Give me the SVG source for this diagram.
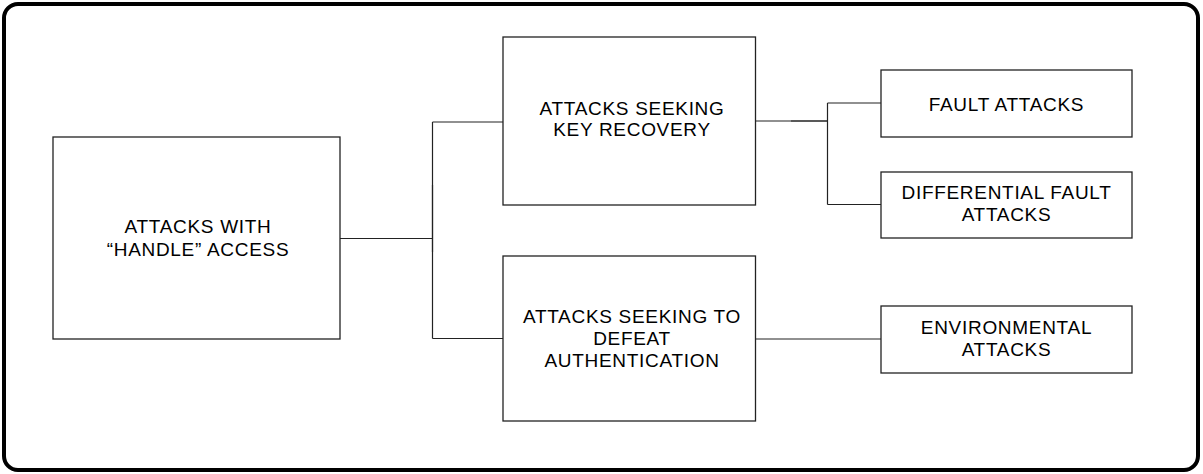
<svg xmlns="http://www.w3.org/2000/svg" width="1203" height="474" viewBox="0 0 1203 474">
<style>
.box{fill:#fff;stroke:#222;stroke-width:1.3}
.lbl{font-family:"Liberation Sans",Arial,sans-serif;font-size:19px;fill:#000;text-anchor:middle;letter-spacing:0.7px}
.con{fill:none;stroke:#222;stroke-width:1.2}
</style>
<rect x="0" y="0" width="1203" height="474" fill="#fff"/>
<rect x="4" y="4" width="1194" height="466" rx="14" ry="14" fill="#fff" stroke="#000" stroke-width="4"/>
<g id="connectors">
<path class="con" d="M340 238.5H432.5M432.5 122V338.5M432.5 122H503M432.5 338.5H503"/>
<path class="con" stroke-width="2" d="M398 238.5H432.5M432.5 185V252"/>
<path class="con" d="M755.5 121H827.5M827.5 103V204.5M827.5 103H881M827.5 204.5H881"/>
<path class="con" stroke-width="2" d="M791 121H827.5"/>
<path class="con" d="M755.5 339H881"/>
</g>
<g id="n_handle">
<rect class="box" x="53" y="137" width="287" height="202"/>
<text class="lbl" x="198" y="233">ATTACKS WITH</text>
<text class="lbl" x="198" y="256">“HANDLE” ACCESS</text>
</g>
<g id="n_key">
<rect class="box" x="503" y="37" width="252.5" height="168"/>
<text class="lbl" x="632" y="115">ATTACKS SEEKING</text>
<text class="lbl" x="632" y="136">KEY RECOVERY</text>
</g>
<g id="n_auth">
<rect class="box" x="503" y="256" width="252.5" height="165"/>
<text class="lbl" x="632" y="323">ATTACKS SEEKING TO</text>
<text class="lbl" x="632" y="345">DEFEAT</text>
<text class="lbl" x="632" y="367">AUTHENTICATION</text>
</g>
<g id="n_fault">
<rect class="box" x="881" y="70" width="251" height="67"/>
<text class="lbl" x="1006.5" y="111">FAULT ATTACKS</text>
</g>
<g id="n_dfa">
<rect class="box" x="881" y="172" width="251" height="66"/>
<text class="lbl" x="1006.5" y="199">DIFFERENTIAL FAULT</text>
<text class="lbl" x="1006.5" y="221">ATTACKS</text>
</g>
<g id="n_env">
<rect class="box" x="881" y="306" width="251" height="67"/>
<text class="lbl" x="1006.5" y="334">ENVIRONMENTAL</text>
<text class="lbl" x="1006.5" y="356">ATTACKS</text>
</g>
</svg>
